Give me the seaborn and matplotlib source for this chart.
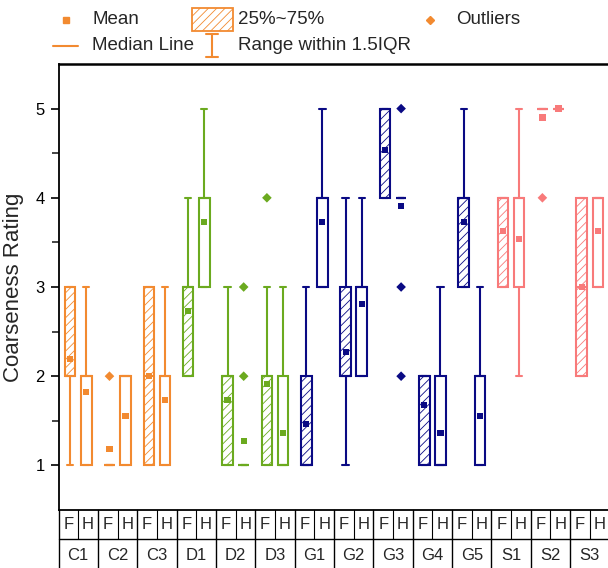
import numpy as np
import pandas as pd
import matplotlib
matplotlib.use("Agg")
import matplotlib.pyplot as plt
from matplotlib.lines import Line2D
from matplotlib.patches import Rectangle
import seaborn as sns

sns.set_style("ticks")
plt.rcParams['font.family'] = ['Liberation Sans', 'DejaVu Sans']
plt.rcParams['hatch.linewidth'] = 0.6

# ---------------- data ----------------
groups = ["C1", "C2", "C3", "D1", "D2", "D3", "G1", "G2", "G3", "G4", "G5", "S1", "S2", "S3"]
group_color = ["#F28A30", "#F28A30", "#F28A30", "#6BAA1F", "#6BAA1F", "#6BAA1F",
               "#0A0A84", "#0A0A84", "#0A0A84", "#0A0A84", "#0A0A84",
               "#F87A7A", "#F87A7A", "#F87A7A"]
subjects = ["F", "H"]

# order: C1F, C1H, C2F, C2H, ...
q1 =      [2, 1, 1, 1, 1, 1, 2, 3, 1, 1, 1, 1, 1, 3, 2, 2, 4, 4, 1, 1, 3, 1, 3, 3, 5, 5, 2, 3]
median =  [2, 2, 1, 2, 2, 2, 3, 4, 2, 1, 2, 1, 1, 4, 2, 3, 5, 4, 2, 1, 4, 2, 4, 4, 5, 5, 3, 4]
q3 =      [3, 2, 1, 2, 3, 2, 3, 4, 2, 1, 2, 2, 2, 4, 3, 3, 5, 4, 2, 2, 4, 2, 4, 4, 5, 5, 4, 4]
wlo =     [1, 1, 1, 1, 1, 1, 2, 3, 1, 1, 1, 1, 1, 3, 1, 2, 4, 4, 1, 1, 3, 1, 3, 2, 5, 5, 2, 3]
whi =     [3, 3, 1, 2, 3, 3, 4, 5, 3, 1, 3, 3, 3, 5, 4, 4, 5, 4, 2, 3, 5, 3, 4, 5, 5, 5, 4, 4]
means =   [2.19, 1.82, 1.18, 1.55, 2.00, 1.73, 2.73, 3.73, 1.73, 1.27, 1.91, 1.36,
           1.46, 3.73, 2.27, 2.81, 4.54, 3.91, 1.68, 1.36, 3.73, 1.55, 3.63, 3.54,
           4.90, 5.00, 3.00, 3.63]
outliers = [[], [], [2], [], [], [], [], [], [], [2, 3], [4], [],
            [], [], [], [], [], [5, 3, 2], [], [], [], [], [], [],
            [4], [], [], []]

# ---------------- figure ----------------
W, H = 608, 568
fig = plt.figure(figsize=(W / 100, H / 100), dpi=100)
ax = fig.add_axes([58.5 / W, 58 / H, 551 / W, 446 / H])

offset = 0.205
box_w = 0.27
rows = []
for i in range(len(q1)):
    g = i // 2
    s = i % 2
    pos = g + (-offset if s == 0 else offset)
    c = group_color[g]
    stats = dict(med=median[i], q1=q1[i], q3=q3[i], whislo=wlo[i], whishi=whi[i],
                 mean=means[i], fliers=[])
    ax.bxp([stats], positions=[pos], widths=box_w, capwidths=0.16,
           patch_artist=True, showfliers=False, showmeans=False,
           boxprops=dict(facecolor="white", edgecolor=c, linewidth=1.5,
                         hatch="////" if s == 0 else None),
           medianprops=dict(color=c, linewidth=1.5),
           whiskerprops=dict(color=c, linewidth=1.5),
           capprops=dict(color=c, linewidth=1.5),
           manage_ticks=False)
    rows.append(dict(x=pos, y=means[i], kind="mean", color=c))
    for o in outliers[i]:
        rows.append(dict(x=pos, y=o, kind="outlier", color=c))

df = pd.DataFrame(rows)
dm = df[df.kind == "mean"]
do = df[df.kind == "outlier"]
pal = {c: c for c in set(group_color)}
sns.scatterplot(data=dm, x="x", y="y", hue="color", palette=pal,
                marker="s", s=20, linewidth=0, legend=False, ax=ax, zorder=5)
sns.scatterplot(data=do, x="x", y="y", hue="color", palette=pal,
                marker="D", s=24, linewidth=0, legend=False, ax=ax, zorder=5)

ax.set_xlim(-0.5, len(groups) - 0.5)
ax.set_ylim(0.5, 5.5)
ax.set_yticks([1, 2, 3, 4, 5])
ax.set_yticks([1.5, 2.5, 3.5, 4.5], minor=True)
ax.tick_params(axis="y", which="major", length=6, width=1.2, labelsize=12, pad=4, colors="black")
ax.tick_params(axis="y", which="minor", length=5, width=1.2)
ax.set_xticks([])
ax.set_xlabel("")
ax.set_ylabel("Coarseness Rating", fontsize=16)
ax.yaxis.set_label_coords(-0.062, 0.5)
for side in ["top", "left", "bottom"]:
    ax.spines[side].set_color("black")
ax.spines["top"].set_linewidth(1.8)
ax.spines["left"].set_linewidth(1.3)
ax.spines["bottom"].set_linewidth(1.3)
ax.spines["right"].set_visible(False)

# ---------------- category table below the axis ----------------
trans = ax.get_xaxis_transform()
r1 = -29 / 446
r2 = -60 / 446
ax.plot([-0.5, len(groups) - 0.5], [r1, r1], color="black", lw=1.0, transform=trans, clip_on=False)
ax.plot([-0.5, len(groups) - 0.5], [r2, r2], color="black", lw=1.0, transform=trans, clip_on=False)
for g in range(len(groups) + 1):
    ax.plot([g - 0.5, g - 0.5], [0, r2], color="black", lw=1.0, transform=trans, clip_on=False)
for g, name in enumerate(groups):
    ax.plot([g, g], [0, r1], color="black", lw=0.8, transform=trans, clip_on=False)
    ax.text(g - 0.25, r1 / 2, subjects[0], ha="center", va="center", fontsize=12, transform=trans)
    ax.text(g + 0.25, r1 / 2, subjects[1], ha="center", va="center", fontsize=12, transform=trans)
    ax.text(g, (r1 + r2) / 2 - 0.002, name, ha="center", va="center", fontsize=12, transform=trans)

# ---------------- legend (figure coordinates) ----------------
def fx(x):
    return x / W

def fy(y):
    return 1 - y / H

lc = group_color[0]
tf = fig.transFigure
fs = 13.5
fig.add_artist(Line2D([fx(66)], [fy(20)], marker="s", ms=4.2, color=lc, lw=0, transform=tf))
fig.text(fx(92), fy(20), "Mean", fontsize=fs, va="center", ha="left")
fig.add_artist(Rectangle((fx(192), fy(31)), 41 / W, 23 / H, facecolor="white", edgecolor=lc,
                         hatch="////", lw=1.3, transform=tf))
fig.text(fx(238), fy(20), "25%~75%", fontsize=fs, va="center", ha="left")
fig.add_artist(Line2D([fx(430)], [fy(20)], marker="D", ms=4.2, color=lc, lw=0, transform=tf))
fig.text(fx(456), fy(20), "Outliers", fontsize=fs, va="center", ha="left")
fig.add_artist(Line2D([fx(53), fx(78)], [fy(46), fy(46)], color=lc, lw=1.5, transform=tf))
fig.text(fx(92), fy(46), "Median Line", fontsize=fs, va="center", ha="left")
fig.add_artist(Line2D([fx(212), fx(212)], [fy(34), fy(57)], color=lc, lw=1.5, transform=tf))
fig.add_artist(Line2D([fx(206), fx(218)], [fy(34), fy(34)], color=lc, lw=1.5, transform=tf))
fig.add_artist(Line2D([fx(206), fx(218)], [fy(57), fy(57)], color=lc, lw=1.5, transform=tf))
fig.text(fx(238), fy(46), "Range within 1.5IQR", fontsize=fs, va="center", ha="left")

fig.savefig("out.png", dpi=100)
